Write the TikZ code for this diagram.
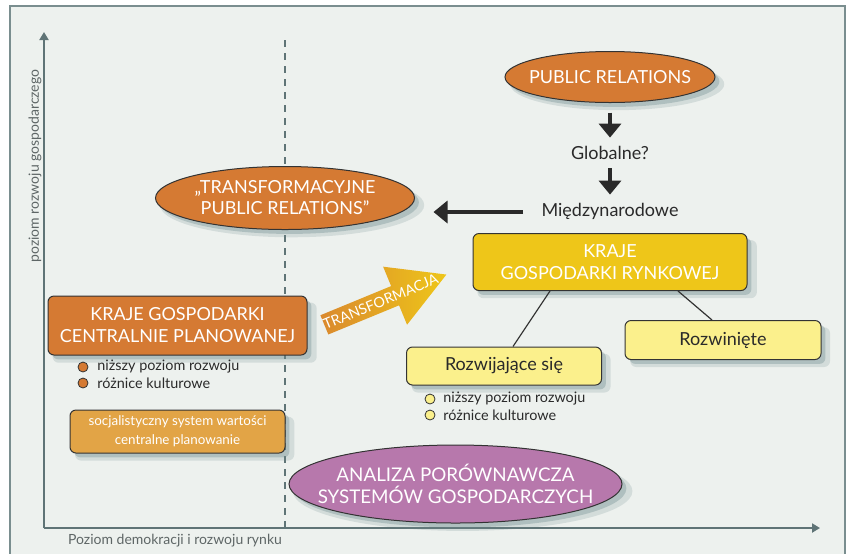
\documentclass[tikz,border=0pt]{standalone}
\usepackage{fontspec}
\setmainfont{Lato}
\usepackage{xcolor}
\usetikzlibrary{arrows.meta,positioning,shapes.geometric,shapes.arrows,shadows,calc}
\definecolor{bgc}{HTML}{EDF1EE}
\definecolor{framec}{HTML}{7A8E8F}
\definecolor{axisc}{HTML}{5F7476}
\definecolor{labc}{HTML}{5E6666}
\definecolor{linec}{HTML}{333333}
\definecolor{shadc}{HTML}{6E8A8E}
\definecolor{orngc}{HTML}{D57A33}
\definecolor{lorngc}{HTML}{E2A446}
\definecolor{yelc}{HTML}{EEC619}
\definecolor{lyelc}{HTML}{FBF08C}
\definecolor{purc}{HTML}{B778AC}
\definecolor{txtc}{HTML}{2A2A2A}
\tikzset{
  shad/.style={drop shadow={shadow xshift=3.5pt,shadow yshift=-3.5pt,
                 shadow scale=1.02,opacity=.2,fill=shadc},
               drop shadow={shadow xshift=2.2pt,shadow yshift=-2.2pt,
                 opacity=.35,fill=shadc}},
  oval/.style={ellipse,draw=linec,line width=.5pt,fill=orngc,text=white,
               align=center,font=\fontsize{9}{10.5}\selectfont,
               inner xsep=-30pt,inner ysep=-12pt,shad},
  box/.style={draw=linec,line width=.5pt,rounded corners=3pt,align=center,
              inner sep=0pt,font=\fontsize{9}{11}\selectfont,shad},
  obox/.style={box,fill=orngc,text=white},
  lobox/.style={box,fill=lorngc,text=white,font=\fontsize{6.7}{9.5}\selectfont},
  ybox/.style={box,fill=yelc,text=white},
  lybox/.style={box,fill=lyelc,text=txtc},
  plain/.style={font=\fontsize{9}{11}\selectfont,text=txtc,inner sep=0pt,
                text height=6.5pt,text depth=2pt},
  bigarr/.style={-{Triangle[length=7pt,width=11pt]},line width=2pt,txtc},
  axis/.style={-{Triangle[length=4pt,width=4.5pt]},line width=1pt,axisc},
  axlab/.style={font=\fontsize{7}{8}\selectfont,text=labc},
  divide/.style={dash pattern=on 3.5pt off 3pt,line width=.8pt,axisc},
  link/.style={line width=.6pt,linec},
  dotc/.style={circle,draw=linec,line width=.4pt,minimum size=5pt,inner sep=0pt},
  bul/.style={font=\fontsize{7.2}{9}\selectfont,text=txtc,inner sep=0pt,anchor=west},
}
\begin{document}
\begin{tikzpicture}[x=0.5pt,y=-0.5pt]
\useasboundingbox (0,0) rectangle (850,553);
% frame and axes
\fill[bgc] (10,6) rectangle (845,570);
\draw[framec,line width=1pt] (10,570) -- (10,6) -- (845,6) -- (845,570);
\coordinate (o) at (44,528);
\coordinate (ytop) at (44,32);
\coordinate (xend) at (820,528);
\draw[axis] (o) -- (ytop);
\draw[axis] (o) -- (xend);
\node[axlab,rotate=90] (ylab) at (35,166) {poziom rozwoju gospodarczego};
\node[axlab] (xlab) at (175,541) {Poziom demokracji i rozwoju rynku};
\coordinate (dtop) at (285,40);
\coordinate (dbot) at (285,528);
\draw[divide] (dtop) -- (dbot);

% public relations chain
\node[oval,minimum width=105pt,minimum height=25.5pt] (pr) at (610,77) {PUBLIC RELATIONS};
\node[plain] (glob) at (610,155) {Globalne?};
\node[plain] (intl) at (610,212) {Międzynarodowe};
\node[oval,minimum width=129.5pt,minimum height=31.5pt] (tpr) at (285,198)
  {„TRANSFORMACYJNE\\PUBLIC RELATIONS”};
\draw[bigarr,shorten <=4.75pt,shorten >=4.25pt] (pr) -- (glob);
\draw[bigarr,shorten <=2.25pt,shorten >=4.25pt] (glob) -- (intl);
\draw[bigarr,shorten <=9pt,shorten >=9.25pt] (intl.west) -- (intl.west -| tpr.east);

% market economies
\node[ybox,minimum width=137pt,minimum height=28.5pt] (rynk) at (610,262)
  {KRAJE\\GOSPODARKI RYNKOWEJ};
\node[lybox,minimum width=97.5pt,minimum height=19pt] (rozwij) at (504,366) {Rozwijające się};
\node[lybox,minimum width=98pt,minimum height=19.5pt] (rozwin) at (723,340) {Rozwinięte};
\draw[link] ($(rynk.south)+(-60,0)$) -- ($(rozwij.north)+(9,0)$);
\draw[link] ($(rynk.south)+(68,0)$) -- ($(rozwin.north)+(-11,0)$);
\foreach \t [count=\i] in {niższy poziom rozwoju,różnice kulturowe}{
  \node[dotc,fill=lyelc] (yd\i) at (430,383+16*\i) {};
  \node[bul] (yt\i) at (443,383+16*\i) {\t};
}

% planned economies
\node[obox,minimum width=129.5pt,minimum height=29.5pt] (plan) at (177.5,325.5)
  {KRAJE GOSPODARKI\\CENTRALNIE PLANOWANEJ};
\foreach \t [count=\i] in {niższy poziom rozwoju,różnice kulturowe}{
  \node[dotc,fill=orngc] (od\i) at (83,351+16*\i) {};
  \node[bul] (ot\i) at (97,351+16*\i) {\t};
}
\node[lobox,minimum width=107.5pt,minimum height=21.5pt] (soc) at (177.5,431.5)
  {socjalistyczny system wartości\\centralne planowanie};

% transformation arrow
\node[single arrow,anchor=tail,rotate=22.4,left color=orngc!80!yelc,right color=yelc,
      inner sep=0pt,text height=10pt,text depth=0pt,minimum height=66pt,
      single arrow head extend=10.5pt,single arrow tip angle=59] (trans) at (324,325) {};
\node[rotate=22.4,text=white,font=\fontsize{7.2}{8}\selectfont,inner sep=0pt]
  (translab) at ($(trans.tail)!0.46!(trans.tip)$) {TRANSFORMACJA};

% comparison
\node[oval,fill=purc,minimum width=166.5pt,minimum height=39pt,
      font=\fontsize{9.4}{11}\selectfont] (anal) at (455.5,484)
  {ANALIZA PORÓWNAWCZA\\SYSTEMÓW GOSPODARCZYCH};
\end{tikzpicture}
\end{document}
